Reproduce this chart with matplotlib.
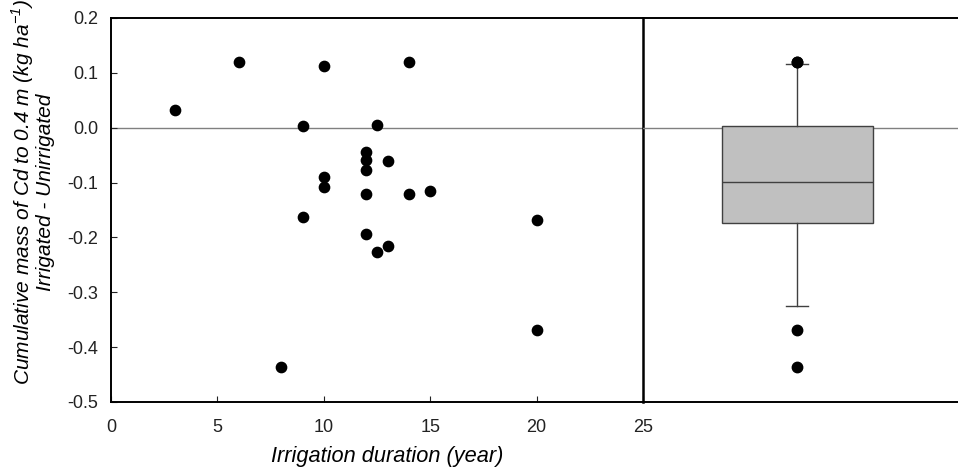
import matplotlib.pyplot as plt
import numpy as np

plt.rcParams['font.family'] = ['Liberation Sans', 'DejaVu Sans']

# Irrigation duration (year) and Cd mass difference (kg/ha)
duration = [3, 6, 10, 14, 9, 12.5, 12, 12, 12, 13, 10, 10, 12, 14, 15, 9, 12,
            12.5, 13, 8, 20, 20]
cd_diff = [0.032, 0.119, 0.112, 0.120, 0.003, 0.005, -0.044, -0.059, -0.077,
           -0.061, -0.090, -0.108, -0.120, -0.120, -0.115, -0.163, -0.194,
           -0.227, -0.216, -0.437, -0.168, -0.368]

x_ticks = [0, 5, 10, 15, 20, 25]
y_ticks = [-0.5, -0.4, -0.3, -0.2, -0.1, 0.0, 0.1, 0.2]

fig = plt.figure(figsize=(9.58, 4.67), dpi=100)
ax = fig.add_axes([111 / 958, 65 / 467, 532 / 958, 384 / 467])
axb = fig.add_axes([643 / 958, 65 / 467, 1 - 643 / 958, 384 / 467])
axb.set_facecolor('none')

# scatter panel
ax.axhline(0, color='#808080', lw=1.0, zorder=1)
ax.scatter(duration, cd_diff, s=55, color='black', zorder=3)
ax.set_xlim(0, 25)
ax.set_ylim(-0.5, 0.2)
ax.set_xticks(x_ticks)
ax.set_yticks(y_ticks)
ax.set_yticklabels([f'{v:.1f}' for v in y_ticks])
ax.tick_params(direction='in', length=4, width=0.8, labelsize=13, colors='#222222')
ax.tick_params(axis='x', pad=12)
ax.tick_params(axis='y', pad=9)
for sp in ax.spines.values():
    sp.set_linewidth(1.4)
ax.spines['right'].set_linewidth(1.8)
ax.set_xlabel('Irrigation duration (year)', fontsize=15.7, style='italic')
ax.xaxis.set_label_coords(0.52, -0.115)
ax.set_ylabel('Cumulative mass of Cd to 0.4 m (kg ha$^{\\mathregular{-1}}$)\nIrrigated - Unirrigated',
              fontsize=15, style='italic', linespacing=1.0)
ax.yaxis.set_label_coords(-0.105, 0.547)

# box plot panel (10th/90th percentile whiskers)
vals = np.array(cd_diff)
q10, q25, q50, q75, q90 = np.percentile(vals, [10, 25, 50, 75, 90], method='weibull')
fliers = vals[(vals < q10) | (vals > q90)]
stats = [dict(med=q50, q1=q25, q3=q75, whislo=q10, whishi=q90, fliers=fliers)]
axb.axhline(0, color='#808080', lw=1.0, zorder=1)
axb.bxp(stats, positions=[0.49], widths=0.48, capwidths=0.07, patch_artist=True,
        manage_ticks=False,
        boxprops=dict(facecolor='#c0c0c0', edgecolor='#404040', lw=1.0),
        medianprops=dict(color='#404040', lw=1.0),
        whiskerprops=dict(color='#404040', lw=1.0),
        capprops=dict(color='#404040', lw=1.0),
        flierprops=dict(marker='o', markerfacecolor='black', markeredgecolor='black',
                        markersize=7.5), zorder=2)
axb.set_xlim(0, 1)
axb.set_ylim(-0.5, 0.2)
axb.set_xticks([])
axb.set_yticks([])
axb.spines['right'].set_visible(False)
axb.spines['left'].set_visible(False)
for sp in axb.spines.values():
    sp.set_linewidth(1.4)

fig.savefig('out.png', dpi=100)
